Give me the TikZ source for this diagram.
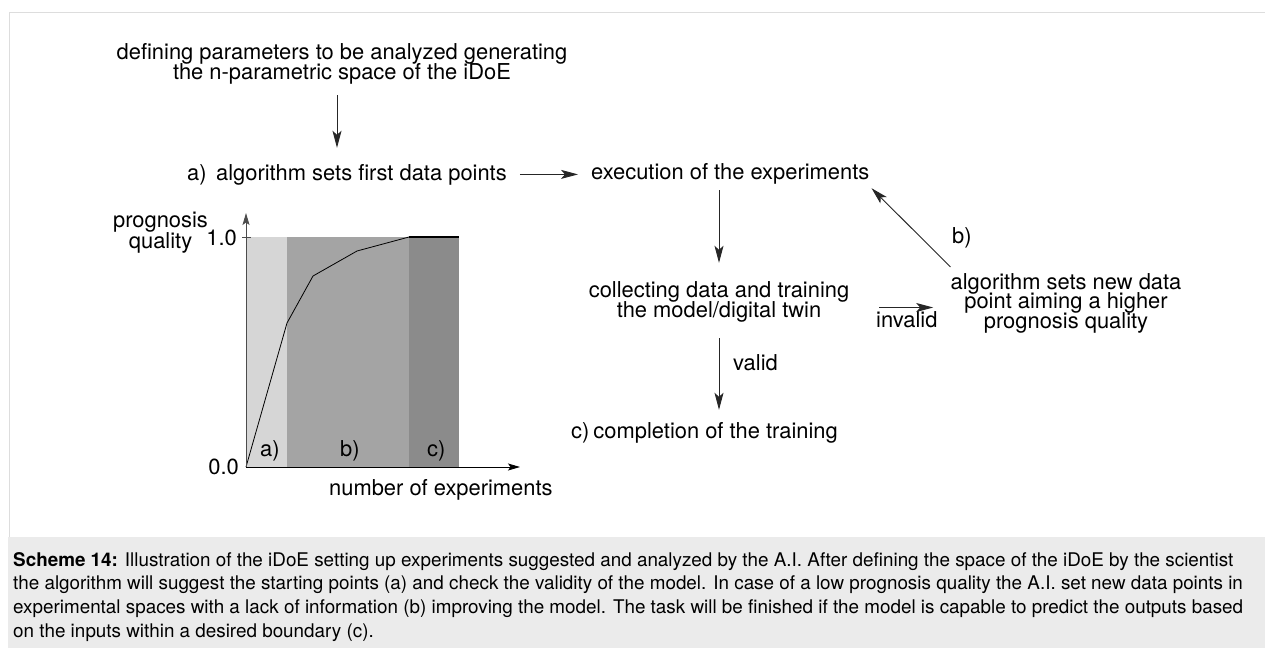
\documentclass[tikz,border=0pt]{standalone}
\usepackage{fontspec}
\setmainfont{TeX Gyre Heros}
\usetikzlibrary{arrows.meta,calc}
\definecolor{shA}{HTML}{D6D6D6}
\definecolor{shB}{HTML}{A4A4A4}
\definecolor{shC}{HTML}{8B8B8B}
\definecolor{capbg}{HTML}{EBEBEB}
\definecolor{framec}{HTML}{DDDDDD}
\begin{document}
\begin{tikzpicture}[x=1pt,y=-1pt,
  txt/.style={inner sep=0pt, text height=15.8pt, text depth=4.6pt, font=\fontsize{21.9}{26}\selectfont, anchor=base},
  txtw/.style={txt, anchor=base west},
  txte/.style={txt, anchor=base east},
  captxt/.style={inner sep=0pt, anchor=base west, font=\fontsize{18.85}{22}\selectfont},
  arr/.style={-{Stealth[length=17pt,width=9pt,inset=4pt]}, line width=0.9pt, draw=black!85},
  axarr/.style={-{Stealth[length=12pt,width=7pt,inset=2.5pt]}, line width=0.9pt}]
\useasboundingbox (0,0) rectangle (1265,648);
% frame and caption background
\fill[capbg] (8,537) rectangle (1265,648);
\draw[framec, line width=1pt] (9,537) -- (9,12) -- (1265,12);
% flow texts
\node[txt] (def1) at (342,59.5) {defining parameters to be analyzed generating};
\node[txt] (def2) at (342,79) {the n-parametric space of the iDoE};
\node[txtw] (la) at (187,180) {a)};
\node[txtw] (alg) at (216,180) {algorithm sets first data points};
\node[txtw] (exe) at (591,179) {execution of the experiments};
\node[txt] (coll1) at (719,297) {collecting data and training};
\node[txt] (coll2) at (719,317) {the model/digital twin};
\node[txt] (rb1) at (1066,289) {algorithm sets new data};
\node[txt] (rb2) at (1066,308.5) {point aiming a higher};
\node[txt] (rb3) at (1066,328) {prognosis quality};
\node[txtw] (lb) at (952,243) {b)};
\node[txtw] (inv) at (876,327) {invalid};
\node[txtw] (val) at (733,370) {valid};
\node[txtw] (comp) at (571,438) {c)\kern4pt completion of the training};
% flow arrows
\draw[arr, shorten <=11.4pt, shorten >=16.2pt] ($(def2.south)+(-5,0)$) -- ($(def2.south |- la.north)+(-5,0)$);
\draw[arr, shorten <=13pt, shorten >=13pt] (alg.east) -- (alg.east -| exe.west);
\draw[arr, shorten <=6.4pt, shorten >=18.2pt] (coll1.north |- exe.south) -- (coll1.north);
\draw[arr, shorten <=16.4pt, shorten >=12.2pt] (coll2.south) -- (coll2.south |- comp.north);
\draw[arr] ($(coll1.east |- rb2.west)+(30,4.6)$) -- ($(rb2.west)+(-31,4.6)$);
\draw[arr] ($(rb1.north west)+(0,-6)$) -- ($(exe.south east)+(2,4.4)$);
% graph
\fill[shA] (246,237) rectangle (287,467);
\fill[shB] (287,237) rectangle (409,467);
\fill[shC] (409,237) rectangle (459,467);
\draw[line width=0.8pt] (246,467) -- (287,323) -- (313,276) -- (357,251) -- (409,237);
\draw[line width=1.5pt] (409,237) -- (459,237);
\draw[axarr, draw=black!70] (246,467) -- (246,213);
\draw[axarr] (246,467) -- (520,467);
\draw[line width=0.8pt, black!70] (242,237) -- (251,237);
\node[txte] (one) at (237,245) {1.0};
\node[txte] (zero) at (239,474) {0.0};
\node[txt] (prog) at (160.5,227) {prognosis};
\node[txt] (qual) at (160.5,248) {quality};
\node[txtw] (ra) at (260,456) {a)};
\node[txtw] (rbb) at (340,456) {b)};
\node[txtw] (rc) at (427,456) {c)};
\node[txtw] (nexp) at (329,495) {number of experiments};
% caption
\node[captxt] (c1) at (13,566) {\textbf{Scheme 14:} Illustration of the iDoE setting up experiments suggested and analyzed by the A.I. After defining the space of the iDoE by the scientist};
\node[captxt] (c2) at (13,589.5) {the algorithm will suggest the starting points (a) and check the validity of the model. In case of a low prognosis quality the A.I. set new data points in};
\node[captxt] (c3) at (13,613.5) {experimental spaces with a lack of information (b) improving the model. The task will be finished if the model is capable to predict the outputs based};
\node[captxt] (c4) at (13,637.5) {on the inputs within a desired boundary (c).};
\end{tikzpicture}
\end{document}
